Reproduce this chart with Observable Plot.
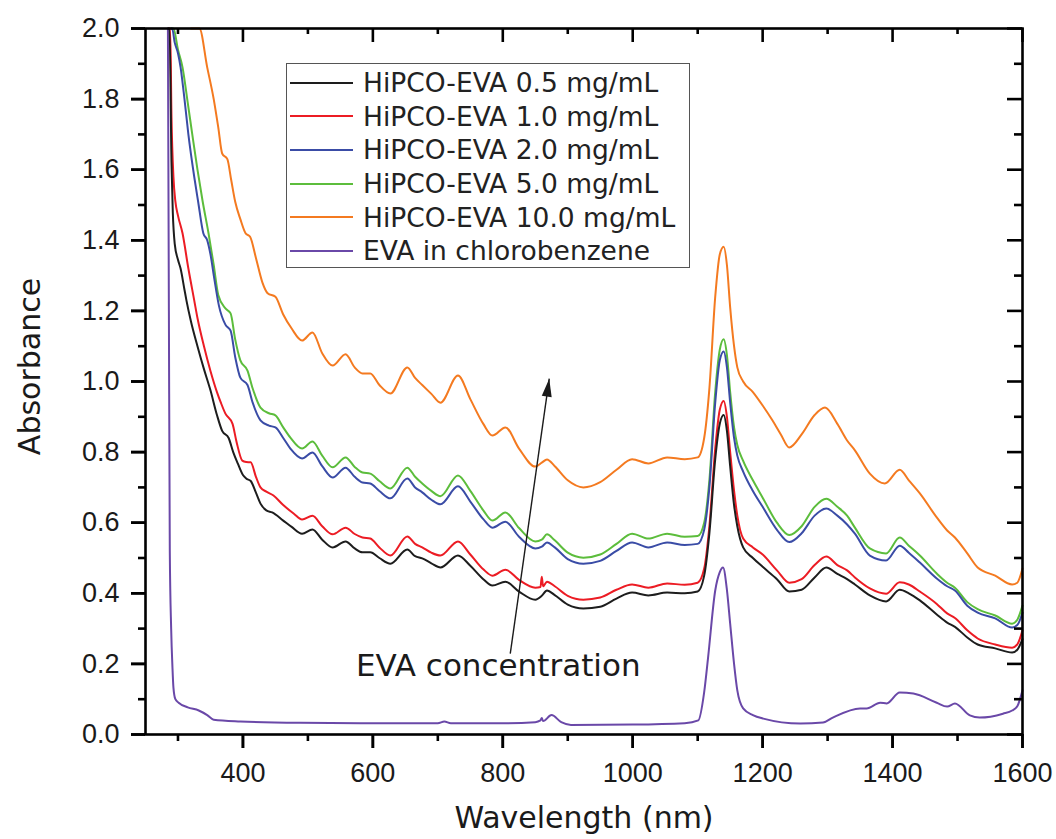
<!DOCTYPE html>
<html>
<head>
<meta charset="utf-8">
<script src="https://cdn.jsdelivr.net/npm/d3@7"></script>
<script src="https://cdn.jsdelivr.net/npm/@observablehq/plot@0.6"></script>
<style>
  html, body { margin: 0; padding: 0; background: #fff; }
  #wrap { position: relative; width: 1056px; height: 839px; }
  #legend { position: absolute; left: 286px; top: 63px; width: 404px; height: 205px;
    border: 1.5px solid #555; background: #fff; box-sizing: border-box;
    font-family: "DejaVu Sans", sans-serif; font-size: 26.5px; color: #222; padding-top: 2px; }
  .row { height: 33.6px; display: flex; align-items: center; white-space: nowrap; }
  .row svg { margin-left: 3px; margin-right: 10px; flex: none; }
</style>
</head>
<body>
<div id="wrap"><div id="legend"></div></div>
<script>
// ---- data ----
const seriesNames = ["HiPCO-EVA 0.5 mg/mL","HiPCO-EVA 1.0 mg/mL","HiPCO-EVA 2.0 mg/mL","HiPCO-EVA 5.0 mg/mL","HiPCO-EVA 10.0 mg/mL","EVA in chlorobenzene"];
const seriesColors = ["#1d1d1d","#ec1c24","#3a4ca6","#5cbd3c","#f47a20","#6a48a8"];

const wl05 = [285,287,290,292,295,300,304,310,313,320,330,340,350,360,368,378,385,392,400,405,412,420,427,436,445,462,475,491,507,522,538,558,572,584,596,610,627,653,665,676,690,704,731,750,770,784,804,825,850,860,868,880,900,924,950,975,999,1024,1053,1080,1100,1110,1118,1127,1134,1140,1145,1150,1156,1161,1170,1185,1200,1222,1241,1260,1280,1298,1315,1330,1342,1365,1390,1411,1425,1442,1468,1484,1496,1515,1531,1558,1584,1592,1600];
const ab05 = [2.10,2.0,1.62,1.48,1.39,1.345,1.32,1.26,1.23,1.17,1.10,1.035,0.975,0.905,0.86,0.84,0.80,0.768,0.735,0.725,0.718,0.685,0.654,0.635,0.629,0.606,0.588,0.569,0.581,0.552,0.530,0.547,0.527,0.516,0.516,0.500,0.484,0.524,0.505,0.499,0.485,0.473,0.507,0.478,0.440,0.422,0.433,0.405,0.382,0.393,0.408,0.395,0.368,0.357,0.362,0.385,0.402,0.394,0.402,0.400,0.405,0.45,0.57,0.78,0.88,0.905,0.86,0.76,0.65,0.59,0.53,0.50,0.475,0.44,0.405,0.41,0.445,0.473,0.455,0.44,0.425,0.394,0.377,0.41,0.40,0.38,0.34,0.317,0.305,0.275,0.255,0.244,0.232,0.24,0.27];

const wl10 = [286,288,290,293,296,300,307,316,325,330,340,350,360,366,373,384,390,399,405,412,420,427,436,447,462,478,491,507,522,538,558,572,584,596,610,627,653,665,676,690,704,731,750,770,784,804,825,850,858,860,862,868,880,900,924,950,975,999,1024,1053,1080,1100,1110,1118,1127,1134,1140,1145,1150,1156,1161,1170,1185,1200,1222,1241,1260,1280,1298,1315,1330,1342,1365,1390,1411,1425,1442,1468,1484,1496,1515,1531,1558,1584,1592,1600];
const ab10 = [2.10,2.0,1.75,1.58,1.51,1.47,1.42,1.32,1.23,1.18,1.10,1.03,0.97,0.94,0.909,0.88,0.83,0.776,0.772,0.771,0.73,0.70,0.688,0.677,0.650,0.626,0.609,0.620,0.590,0.567,0.586,0.568,0.558,0.555,0.530,0.507,0.561,0.540,0.530,0.515,0.507,0.547,0.510,0.468,0.450,0.467,0.438,0.416,0.418,0.447,0.420,0.433,0.420,0.393,0.382,0.388,0.410,0.425,0.416,0.428,0.424,0.43,0.47,0.59,0.81,0.92,0.945,0.90,0.80,0.69,0.62,0.555,0.53,0.51,0.465,0.43,0.44,0.48,0.504,0.48,0.465,0.445,0.414,0.399,0.431,0.425,0.405,0.37,0.343,0.33,0.295,0.272,0.255,0.246,0.255,0.295];

const wl20 = [289,291,295,300,304,310,316,325,331,339,345,350,356,363,373,381,388,396,407,415,427,440,450,462,473,491,507,522,538,558,572,584,596,610,627,653,665,676,690,704,731,750,770,784,804,825,850,860,868,880,900,924,950,975,999,1024,1053,1080,1100,1110,1118,1127,1134,1140,1145,1150,1156,1161,1170,1185,1200,1222,1241,1260,1280,1298,1315,1330,1342,1365,1390,1411,1425,1442,1468,1484,1496,1515,1531,1558,1584,1592,1600];
const ab20 = [2.10,2.0,1.96,1.93,1.89,1.80,1.70,1.58,1.51,1.42,1.40,1.36,1.29,1.215,1.161,1.144,1.07,1.011,0.99,0.94,0.89,0.875,0.87,0.84,0.81,0.782,0.799,0.76,0.728,0.756,0.73,0.714,0.711,0.69,0.669,0.725,0.70,0.686,0.665,0.652,0.703,0.66,0.61,0.586,0.603,0.56,0.527,0.532,0.544,0.53,0.497,0.484,0.492,0.52,0.544,0.53,0.544,0.537,0.54,0.58,0.70,0.94,1.06,1.085,1.04,0.94,0.84,0.79,0.745,0.69,0.645,0.58,0.545,0.57,0.62,0.64,0.62,0.595,0.569,0.507,0.493,0.535,0.515,0.487,0.442,0.42,0.408,0.365,0.345,0.329,0.303,0.31,0.345];

const wl50 = [290,293,300,307,315,322,330,338,347,355,362,373,381,388,396,407,415,427,440,450,462,473,491,507,522,538,558,572,584,596,610,627,653,665,676,690,704,731,750,770,784,804,825,850,860,868,880,900,924,950,975,999,1024,1053,1080,1100,1110,1118,1127,1134,1140,1145,1150,1156,1161,1170,1185,1200,1222,1241,1260,1280,1298,1315,1330,1342,1365,1390,1411,1425,1442,1468,1484,1496,1515,1531,1558,1584,1592,1600];
const ab50 = [2.10,2.0,1.94,1.89,1.79,1.70,1.60,1.51,1.42,1.33,1.245,1.207,1.193,1.12,1.06,1.031,0.98,0.926,0.91,0.904,0.87,0.841,0.81,0.83,0.79,0.757,0.785,0.758,0.742,0.739,0.718,0.697,0.756,0.73,0.711,0.69,0.675,0.734,0.69,0.635,0.606,0.629,0.585,0.547,0.552,0.567,0.55,0.515,0.501,0.51,0.54,0.569,0.555,0.569,0.56,0.562,0.60,0.72,0.97,1.09,1.12,1.075,0.97,0.87,0.82,0.775,0.72,0.671,0.60,0.565,0.59,0.645,0.668,0.645,0.62,0.586,0.527,0.513,0.558,0.535,0.507,0.456,0.43,0.416,0.375,0.355,0.337,0.314,0.325,0.365];

const wl100 = [320,333,345,355,362,368,376,382,388,396,404,411,420,430,438,450,462,475,491,507,522,538,558,572,584,596,610,627,653,665,676,690,704,731,750,770,784,804,825,850,860,868,880,900,924,950,975,999,1024,1053,1080,1100,1110,1118,1127,1134,1140,1145,1150,1156,1161,1170,1185,1200,1215,1228,1241,1260,1280,1296,1315,1330,1342,1365,1388,1411,1425,1442,1468,1484,1496,1515,1531,1558,1584,1592,1600];
const ab100 = [2.15,2.0,1.89,1.80,1.72,1.646,1.63,1.57,1.51,1.46,1.42,1.41,1.35,1.28,1.25,1.24,1.19,1.15,1.116,1.139,1.08,1.045,1.077,1.04,1.023,1.023,0.99,0.966,1.04,1.01,0.99,0.965,0.94,1.017,0.95,0.88,0.847,0.87,0.81,0.759,0.77,0.779,0.76,0.72,0.70,0.715,0.75,0.78,0.768,0.785,0.78,0.785,0.84,0.98,1.24,1.36,1.382,1.33,1.21,1.10,1.04,1.00,0.97,0.932,0.89,0.85,0.813,0.85,0.905,0.926,0.88,0.833,0.805,0.739,0.711,0.75,0.72,0.683,0.615,0.578,0.558,0.513,0.473,0.45,0.425,0.43,0.47];

const wlEva = [284.5,286,287.4,289.5,291.5,293,296,301,315,332,345,355,396,488,581,700,710,720,800,850,858,860,862,875,890,905,1000,1080,1101,1110,1116,1127,1134,1139,1145,1150,1156,1161,1170,1185,1201,1258,1293,1308,1350,1360,1381,1391,1411,1432,1468,1484,1496,1519,1534,1570,1584,1592,1600];
const abEva = [2.05,1.2,0.52,0.3,0.19,0.133,0.1,0.09,0.077,0.068,0.055,0.042,0.037,0.033,0.032,0.032,0.037,0.032,0.032,0.035,0.04,0.047,0.038,0.055,0.035,0.027,0.028,0.032,0.04,0.12,0.218,0.408,0.46,0.473,0.41,0.314,0.2,0.125,0.074,0.055,0.045,0.031,0.034,0.048,0.074,0.074,0.09,0.088,0.119,0.116,0.09,0.079,0.088,0.054,0.048,0.059,0.068,0.08,0.125];

const xMajor = [400,600,800,1000,1200,1400,1600];
const xMinor = [300,500,700,900,1100,1300,1500];
const yMajor = [0,0.2,0.4,0.6,0.8,1.0,1.2,1.4,1.6,1.8,2.0];
const yMinor = [0.1,0.3,0.5,0.7,0.9,1.1,1.3,1.5,1.7,1.9];
const xDomain = [250, 1600];
const yDomain = [0, 2];

const arrowFrom = [811.5, 0.229];
const arrowTo = [871.5, 1.008];
const noteText = ["EVA concentration"];
const notePos = [793, 0.195];

// ---- build table ----
const wls = [wl05, wl10, wl20, wl50, wl100, wlEva];
const abs = [ab05, ab10, ab20, ab50, ab100, abEva];
const table = [];
const drawOrder = [5, 4, 3, 2, 1, 0];
for (const i of drawOrder) {
  wls[i].forEach((w, j) => table.push({series: seriesNames[i], wl: w, ab: abs[i][j]}));
}

const ink = "#1a1a1a";
const tickFont = "'Liberation Sans', Arial, sans-serif";
const labelFont = "'DejaVu Sans', sans-serif";

// arrow head symbol (tip at origin, pointing along the arrow)
const head = {
  draw(ctx) {
    const a = 8 * Math.PI / 180, c = Math.cos(a), s = Math.sin(a);
    const pts = [[0, 0], [5, 18], [-5, 18]].map(([x, y]) => [x * c - y * s, x * s + y * c]);
    ctx.moveTo(pts[0][0], pts[0][1]);
    ctx.lineTo(pts[1][0], pts[1][1]);
    ctx.lineTo(pts[2][0], pts[2][1]);
    ctx.closePath();
  }
};

const tickStyle = {stroke: "black", strokeWidth: 2.6};

const chart = Plot.plot({
  width: 1056, height: 839,
  marginLeft: 145, marginRight: 34, marginTop: 28, marginBottom: 105,
  style: {fontFamily: tickFont, fontSize: "27px", color: ink, background: "white"},
  x: {domain: xDomain},
  y: {domain: yDomain, clamp: true},
  color: {domain: seriesNames, range: seriesColors},
  marks: [
    Plot.line(table, {x: "wl", y: "ab", z: "series", stroke: "series", strokeWidth: 2, curve: "monotone-x"}),
    Plot.link([0], {x1: () => arrowFrom[0], y1: () => arrowFrom[1], x2: () => arrowTo[0], y2: () => arrowTo[1], stroke: ink, strokeWidth: 1.4}),
    Plot.dot([0], {x: () => arrowTo[0], y: () => arrowTo[1], symbol: head, fill: ink, stroke: "none"}),
    Plot.text(noteText, {x: () => notePos[0], y: () => notePos[1], text: d => d, fontSize: 31, fontFamily: labelFont, fill: ink}),
    // tick labels (and outer major ticks)
    Plot.axisX(xMajor, {tickSize: 14, tickPadding: 14, tickFormat: d3.format("d"), strokeWidth: 2.6, stroke: "black", label: null}),
    Plot.axisY(yMajor, {tickSize: 14, tickPadding: 12, tickFormat: d3.format(".1f"), strokeWidth: 2.6, stroke: "black", label: null}),
    // bottom & left ticks (outward)
    Plot.ruleX(xMajor, {x: d => d, y1: () => yDomain[0], y2: () => yDomain[0], insetTop: 14, insetBottom: 0, ...tickStyle}),
    Plot.ruleX(xMinor, {x: d => d, y1: () => yDomain[0], y2: () => yDomain[0], insetTop: 7, insetBottom: 0, ...tickStyle}),
    Plot.ruleY(yMajor, {y: d => d, x1: () => xDomain[0], x2: () => xDomain[0], insetLeft: -14, insetRight: 0, ...tickStyle}),
    Plot.ruleY(yMinor, {y: d => d, x1: () => xDomain[0], x2: () => xDomain[0], insetLeft: -7, insetRight: 0, ...tickStyle}),
    // top & right ticks (inward)
    Plot.ruleX(xMajor, {x: d => d, y1: () => yDomain[1], y2: () => yDomain[1], insetTop: 14, insetBottom: 0, ...tickStyle}),
    Plot.ruleX(xMinor, {x: d => d, y1: () => yDomain[1], y2: () => yDomain[1], insetTop: 6, insetBottom: 0, ...tickStyle}),
    Plot.ruleY(yMajor, {y: d => d, x1: () => xDomain[1], x2: () => xDomain[1], insetLeft: -15, insetRight: 0, ...tickStyle}),
    Plot.ruleY(yMinor, {y: d => d, x1: () => xDomain[1], x2: () => xDomain[1], insetLeft: -8, insetRight: 0, ...tickStyle}),
    Plot.frame({stroke: "black", strokeWidth: 2.6}),
    Plot.text(["Wavelength (nm)"], {frameAnchor: "bottom", dy: 93, text: d => d, fontSize: 30, fontFamily: labelFont, fill: ink}),
    Plot.text(["Absorbance"], {frameAnchor: "left", textAnchor: "middle", dx: -115, dy: -15, rotate: -90, text: d => d, fontSize: 30, fontFamily: labelFont, fill: ink})
  ]
});
const wrap = document.getElementById("wrap");
wrap.insertBefore(chart, wrap.firstChild);

// legend
const legend = document.getElementById("legend");
seriesNames.forEach((name, i) => {
  const row = document.createElement("div");
  row.className = "row";
  row.innerHTML = `<svg width="63" height="6"><line x1="0" x2="63" y1="3" y2="3" stroke="${seriesColors[i]}" stroke-width="2"/></svg><span>${name}</span>`;
  legend.appendChild(row);
});
</script>
</body>
</html>
